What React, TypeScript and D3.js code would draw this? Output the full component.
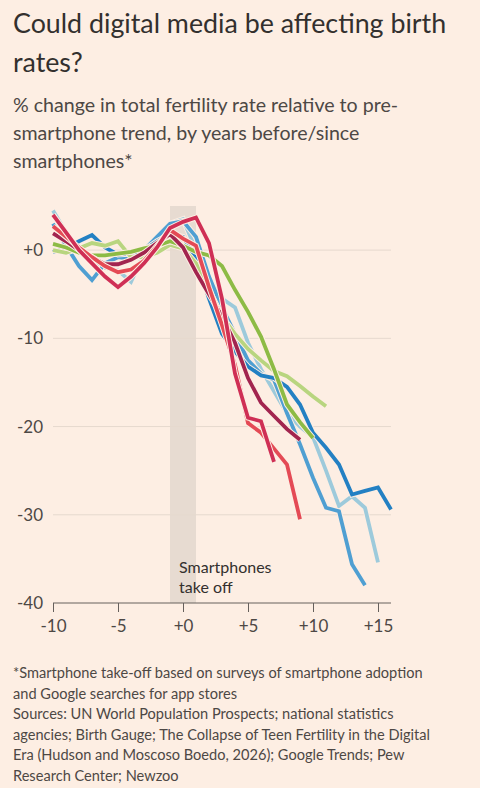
import React, { useEffect, useRef } from "react";
import * as d3 from "d3";

/* DATA: years before/since smartphones took off, % change vs trend */
const years = [-10, -9, -8, -7, -6, -5, -4, -3, -2, -1, 0, 1, 2, 3, 4, 5, 6, 7, 8, 9, 10, 11, 12, 13, 14, 15, 16];

const paleBlue = [4.5, 2, 0, -1, -2, -2.3, -3.6, -0.4, 1.1, 3, 3.5, 0, -3.5, -5.5, -6.5, -10.5, -13.5, -16, -18.5, -20, -21.2, -25, -29, -27.9, -29.2, -35.4];
const midBlue = [3, 0.5, -1.8, -3.4, -1.5, -0.8, -1, 0, 1.5, 3, 3.3, 1.5, -3, -6.5, -9.5, -12.5, -14, -14.7, -18.5, -22, -25.8, -29.2, -29.6, -35.6, -38];
const darkBlue = [-0.2, 0.2, 1, 1.7, 0.3, -0.5, -0.4, 0, 1, 1.8, 1.5, -1, -5.5, -9.5, -11.5, -13.2, -14.2, -14.5, -15.5, -17.5, -20.7, -22.4, -24.3, -27.7, -27.3, -26.9, -29.4];
const lightGreen = [0, -0.3, 0.2, 0.8, 0.5, 1, -0.8, -0.8, -0.3, 0.6, 0.2, -1.5, -4.5, -7.5, -9.5, -11.2, -12.5, -13.7, -14.3, -15.4, -16.6, -17.7];
const green = [0.7, 0.3, -0.3, -0.6, -0.6, -0.4, -0.2, 0.2, 0.5, 1, 0.5, -0.2, -0.6, -1.8, -4.5, -7, -9.8, -13.5, -17.5, -19.5, -21.3];
const maroon = [1.9, 1, 0, -0.8, -1.6, -1.6, -1.1, -0.3, 0.8, 1.8, 0.3, -2.5, -5, -7.5, -10.5, -14.5, -17.3, -18.8, -20.3, -21.5];
const coral = [2.7, 1.5, 0.3, -0.8, -1.8, -2.5, -2.2, -1.2, 0.5, 2.3, 1.3, 0.5, -4.2, -8.5, -13, -19.6, -20.7, -22.5, -24.3, -30.5];
const crimson = [4, 2, 0, -1.5, -3, -4.2, -3, -1.5, 0.3, 2.5, 3.2, 3.7, 0.8, -5.5, -14, -19, -19.4, -24];

const seriesList = [paleBlue, midBlue, darkBlue, lightGreen, green, maroon, coral, crimson];
const seriesColors = ["#9dcadb", "#4f9fd2", "#2380c3", "#b8d57f", "#8dbb45", "#a2254f", "#e44a55", "#cf2f55"];

const yTicks = [0, -10, -20, -30, -40];
const yTickLabels = ["+0", "-10", "-20", "-30", "-40"];
const xTicks = [-10, -5, 0, 5, 10, 15];
const xTickLabels = ["-10", "-5", "+0", "+5", "+10", "+15"];
const takeOff = [-1, 1];

const titleLines = ["Could digital media be affecting birth", "rates?"];
const subtitleLines = [
  "% change in total fertility rate relative to pre-",
  "smartphone trend, by years before/since",
  "smartphones*",
];
const noteLines = [
  "*Smartphone take-off based on surveys of smartphone adoption",
  "and Google searches for app stores",
  "Sources: UN World Population Prospects; national statistics",
  "agencies; Birth Gauge; The Collapse of Teen Fertility in the Digital",
  "Era (Hudson and Moscoso Boedo, 2026); Google Trends; Pew",
  "Research Center; Newzoo",
];

const App = () => {
  const ref = useRef<SVGSVGElement>(null);

  useEffect(() => {
    document.body.style.margin = "0";
    const fontFamily = "Lato, 'Noto Sans', sans-serif";
    const bgColor = "#fdeee3";
    const width = 480;
    const height = 788;

    const svg = d3.select(ref.current);
    svg.selectAll("*").remove();
    svg.append("rect").attr("width", width).attr("height", height).attr("fill", bgColor);

    /* Titles */
    svg
      .append("g")
      .selectAll("text")
      .data(titleLines)
      .join("text")
      .attr("x", 13)
      .attr("y", (d, i) => 33 + i * 39)
      .attr("font-size", 26.8)
      .attr("fill", "#33302e")
      .attr("font-family", fontFamily)
      .text((d) => d);

    svg
      .append("g")
      .selectAll("text")
      .data(subtitleLines)
      .join("text")
      .attr("x", 13)
      .attr("y", (d, i) => 112 + i * 28)
      .attr("font-size", 19.6)
      .attr("fill", "#4d4845")
      .attr("font-family", fontFamily)
      .text((d) => d);

    /* Scales */
    const x = d3.scaleLinear().domain([-10, 16]).range([53, 391]);
    const y = d3.scaleLinear().domain([-40, 5]).range([603, 206]);

    const chart = svg.append("g");

    /* Smartphone take-off band */
    chart
      .append("rect")
      .attr("x", x(takeOff[0]))
      .attr("width", x(takeOff[1]) - x(takeOff[0]))
      .attr("y", y(5))
      .attr("height", y(-40) - y(5))
      .attr("fill", "#e7dbd1");

    /* Gridlines */
    chart
      .append("g")
      .selectAll("line")
      .data(yTicks.slice(0, -1))
      .join("line")
      .attr("x1", x(-10))
      .attr("x2", x(16))
      .attr("y1", (d) => y(d))
      .attr("y2", (d) => y(d))
      .attr("stroke", "#e6d9ce")
      .attr("stroke-width", 1);

    /* Y labels */
    chart
      .append("g")
      .selectAll("text")
      .data(yTicks)
      .join("text")
      .attr("x", 43)
      .attr("y", (d) => y(d))
      .attr("dy", "0.35em")
      .attr("text-anchor", "end")
      .attr("font-size", 17)
      .attr("fill", "#4d4845")
      .attr("font-family", fontFamily)
      .text((d, i) => yTickLabels[i]);

    /* X axis */
    const xAxis = chart
      .append("g")
      .attr("transform", `translate(0, ${y(-40)})`)
      .call(d3.axisBottom(x).tickValues(xTicks).tickSize(9).tickFormat((d, i) => xTickLabels[i]));
    xAxis.select(".domain").attr("stroke", "#66605c").attr("d", `M${x(-10)},0H${x(16)}`);
    xAxis.selectAll(".tick line").attr("stroke", "#66605c");
    xAxis
      .selectAll(".tick text")
      .attr("font-size", 17)
      .attr("font-family", fontFamily)
      .attr("fill", "#4d4845")
      .attr("dy", "1em");

    /* Lines */
    const line = d3
      .line<number>()
      .x((d, i) => x(years[i]))
      .y((d) => y(d));

    seriesList.forEach((s, i) => {
      chart
        .append("path")
        .datum(s)
        .attr("d", line)
        .attr("fill", "none")
        .attr("stroke", bgColor)
        .attr("stroke-width", 5.8)
        .attr("stroke-linejoin", "miter");
      chart
        .append("path")
        .datum(s)
        .attr("d", line)
        .attr("fill", "none")
        .attr("stroke", seriesColors[i])
        .attr("stroke-width", 3.8)
        .attr("stroke-linejoin", "miter");
    });

    /* Annotation */
    chart
      .append("g")
      .selectAll("text")
      .data(["Smartphones", "take off"])
      .join("text")
      .attr("x", x(-0.3))
      .attr("y", (d, i) => 573 + i * 20)
      .attr("font-size", 16)
      .attr("fill", "#33302e")
      .attr("font-family", fontFamily)
      .text((d) => d);

    /* Footnotes */
    svg
      .append("g")
      .selectAll("text")
      .data(noteLines)
      .join("text")
      .attr("x", 13)
      .attr("y", (d, i) => 678 + i * 20.5)
      .attr("font-size", 14.6)
      .attr("fill", "#4d4845")
      .attr("font-family", fontFamily)
      .text((d) => d);
  }, []);

  return <svg ref={ref} width={480} height={788} style={{ display: "block" }} />;
};

export default App;
